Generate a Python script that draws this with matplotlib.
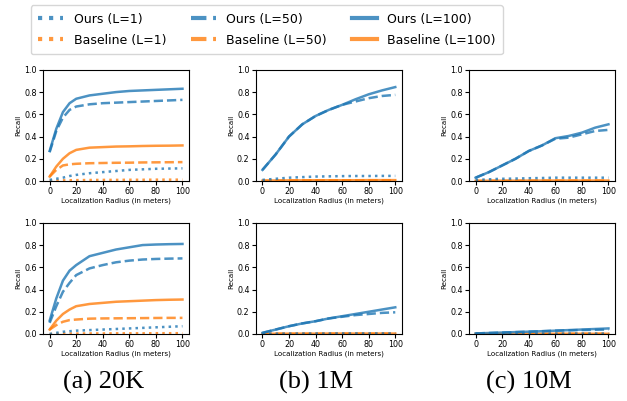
import numpy as np
import matplotlib
matplotlib.use('Agg')
import matplotlib.pyplot as plt
from matplotlib.lines import Line2D

# x positions (localization radius, meters)
radius = [0, 5, 10, 15, 20, 30, 40, 50, 60, 70, 80, 90, 100]

# (a) 20K, top row
a_top_ours_1 = [0.01, 0.02, 0.03, 0.045, 0.055, 0.07, 0.08, 0.09, 0.10, 0.105, 0.11, 0.112, 0.114]
a_top_ours_50 = [0.26, 0.45, 0.57, 0.64, 0.67, 0.69, 0.70, 0.705, 0.71, 0.715, 0.72, 0.725, 0.73]
a_top_ours_100 = [0.27, 0.47, 0.62, 0.70, 0.74, 0.77, 0.785, 0.80, 0.81, 0.815, 0.82, 0.825, 0.83]
a_top_base_1 = [0.002, 0.004, 0.006, 0.007, 0.008, 0.009, 0.01, 0.01, 0.011, 0.011, 0.012, 0.012, 0.012]
a_top_base_50 = [0.04, 0.10, 0.14, 0.15, 0.155, 0.16, 0.162, 0.164, 0.165, 0.167, 0.168, 0.169, 0.17]
a_top_base_100 = [0.04, 0.13, 0.20, 0.25, 0.28, 0.30, 0.305, 0.31, 0.312, 0.315, 0.317, 0.318, 0.32]

# (a) 20K, bottom row
a_bot_ours_1 = [0.0, 0.01, 0.02, 0.025, 0.03, 0.035, 0.04, 0.045, 0.05, 0.055, 0.06, 0.065, 0.07]
a_bot_ours_50 = [0.10, 0.25, 0.38, 0.46, 0.53, 0.59, 0.62, 0.645, 0.66, 0.67, 0.675, 0.678, 0.68]
a_bot_ours_100 = [0.12, 0.32, 0.48, 0.57, 0.62, 0.70, 0.73, 0.76, 0.78, 0.80, 0.805, 0.808, 0.81]
a_bot_base_1 = [0.0, 0.002, 0.003, 0.004, 0.004, 0.005, 0.005, 0.006, 0.006, 0.006, 0.007, 0.007, 0.007]
a_bot_base_50 = [0.04, 0.08, 0.11, 0.125, 0.13, 0.138, 0.14, 0.141, 0.142, 0.143, 0.144, 0.145, 0.145]
a_bot_base_100 = [0.04, 0.12, 0.18, 0.22, 0.25, 0.27, 0.28, 0.29, 0.295, 0.30, 0.305, 0.308, 0.31]

# (b) 1M, top row
b_top_ours_1 = [0.01, 0.015, 0.02, 0.025, 0.03, 0.035, 0.04, 0.042, 0.044, 0.045, 0.045, 0.046, 0.046]
b_top_ours_50 = [0.10, 0.17, 0.24, 0.32, 0.40, 0.51, 0.585, 0.64, 0.685, 0.715, 0.745, 0.765, 0.775]
b_top_ours_100 = [0.10, 0.17, 0.24, 0.32, 0.40, 0.51, 0.585, 0.64, 0.685, 0.735, 0.78, 0.815, 0.845]
b_top_base_1 = [0.001, 0.001, 0.002, 0.002, 0.002, 0.003, 0.003, 0.003, 0.003, 0.003, 0.003, 0.003, 0.003]
b_top_base_50 = [0.002, 0.003, 0.003, 0.004, 0.004, 0.005, 0.005, 0.005, 0.005, 0.005, 0.006, 0.006, 0.006]
b_top_base_100 = [0.003, 0.004, 0.005, 0.005, 0.006, 0.006, 0.007, 0.007, 0.007, 0.007, 0.008, 0.008, 0.008]

# (b) 1M, bottom row
b_bot_ours_1 = [0.001, 0.002, 0.002, 0.003, 0.003, 0.004, 0.004, 0.004, 0.005, 0.005, 0.005, 0.005, 0.005]
b_bot_ours_50 = [0.01, 0.025, 0.04, 0.055, 0.07, 0.095, 0.115, 0.14, 0.155, 0.17, 0.18, 0.19, 0.195]
b_bot_ours_100 = [0.01, 0.025, 0.04, 0.055, 0.07, 0.095, 0.115, 0.14, 0.16, 0.18, 0.20, 0.22, 0.24]
b_bot_base_1 = [0.0, 0.0, 0.001, 0.001, 0.001, 0.001, 0.001, 0.001, 0.001, 0.001, 0.001, 0.001, 0.001]
b_bot_base_50 = [0.001, 0.001, 0.002, 0.002, 0.002, 0.002, 0.002, 0.003, 0.003, 0.003, 0.003, 0.003, 0.003]
b_bot_base_100 = [0.001, 0.002, 0.002, 0.003, 0.003, 0.003, 0.003, 0.004, 0.004, 0.004, 0.004, 0.004, 0.004]

# (c) 10M, top row
c_top_ours_1 = [0.01, 0.012, 0.015, 0.018, 0.02, 0.022, 0.025, 0.027, 0.03, 0.03, 0.03, 0.03, 0.03]
c_top_ours_50 = [0.03, 0.055, 0.08, 0.11, 0.14, 0.20, 0.27, 0.32, 0.38, 0.39, 0.42, 0.45, 0.46]
c_top_ours_100 = [0.03, 0.055, 0.08, 0.11, 0.14, 0.20, 0.27, 0.32, 0.385, 0.405, 0.435, 0.48, 0.51]
c_top_base_1 = [0.0, 0.0, 0.001, 0.001, 0.001, 0.001, 0.001, 0.001, 0.001, 0.001, 0.001, 0.001, 0.001]
c_top_base_50 = [0.001, 0.001, 0.002, 0.002, 0.002, 0.002, 0.003, 0.003, 0.003, 0.003, 0.003, 0.003, 0.003]
c_top_base_100 = [0.001, 0.002, 0.002, 0.003, 0.003, 0.003, 0.004, 0.004, 0.004, 0.004, 0.004, 0.004, 0.004]

# (c) 10M, bottom row
c_bot_ours_1 = [0.0, 0.001, 0.001, 0.001, 0.002, 0.002, 0.002, 0.002, 0.003, 0.003, 0.003, 0.003, 0.003]
c_bot_ours_50 = [0.005, 0.007, 0.009, 0.011, 0.013, 0.017, 0.021, 0.025, 0.03, 0.033, 0.036, 0.038, 0.04]
c_bot_ours_100 = [0.005, 0.007, 0.009, 0.011, 0.013, 0.017, 0.021, 0.025, 0.03, 0.035, 0.04, 0.045, 0.05]
c_bot_base_1 = [0.0, 0.0, 0.0, 0.0, 0.0, 0.0, 0.001, 0.001, 0.001, 0.001, 0.001, 0.001, 0.001]
c_bot_base_50 = [0.0, 0.001, 0.001, 0.001, 0.001, 0.001, 0.001, 0.001, 0.002, 0.002, 0.002, 0.002, 0.002]
c_bot_base_100 = [0.001, 0.001, 0.001, 0.002, 0.002, 0.002, 0.002, 0.002, 0.002, 0.002, 0.002, 0.002, 0.002]

captions = ['(a) 20K', '(b) 1M', '(c) 10M']
legend_labels = ['Ours (L=1)', 'Baseline (L=1)', 'Ours (L=50)', 'Baseline (L=50)',
                 'Ours (L=100)', 'Baseline (L=100)']

panels = [
    [(a_top_ours_1, a_top_ours_50, a_top_ours_100, a_top_base_1, a_top_base_50, a_top_base_100),
     (b_top_ours_1, b_top_ours_50, b_top_ours_100, b_top_base_1, b_top_base_50, b_top_base_100),
     (c_top_ours_1, c_top_ours_50, c_top_ours_100, c_top_base_1, c_top_base_50, c_top_base_100)],
    [(a_bot_ours_1, a_bot_ours_50, a_bot_ours_100, a_bot_base_1, a_bot_base_50, a_bot_base_100),
     (b_bot_ours_1, b_bot_ours_50, b_bot_ours_100, b_bot_base_1, b_bot_base_50, b_bot_base_100),
     (c_bot_ours_1, c_bot_ours_50, c_bot_ours_100, c_bot_base_1, c_bot_base_50, c_bot_base_100)],
]

styles = [':', '--', '-']
alpha = 0.8
lw = 1.8

fig = plt.figure(figsize=(6.27, 4.01), dpi=100)

lefts = [0.0686, 0.408, 0.748]
bottoms = [0.5486, 0.1671]
w, h = 0.233, 0.2772

for r in range(2):
    for c in range(3):
        ax = fig.add_axes([lefts[c], bottoms[r], w, h])
        series = panels[r][c]
        # baseline first, ours on top
        for k in range(3):
            ax.plot(radius, series[3 + k], styles[k], color='C1', lw=lw, alpha=alpha)
        for k in range(3):
            ax.plot(radius, series[k], styles[k], color='C0', lw=lw, alpha=alpha)
        ax.set_ylim(0, 1)
        ax.set_xticks([0, 20, 40, 60, 80, 100])
        ax.set_yticks([0, 0.2, 0.4, 0.6, 0.8, 1.0])
        ax.tick_params(labelsize=5.8, length=3, pad=1.5)
        ax.set_xlabel('Localization Radius (in meters)', fontsize=5.1, labelpad=1)
        ax.set_ylabel('Recall', fontsize=5.1, labelpad=2)

for c in range(3):
    fig.text([0.165, 0.504, 0.844][c], 0.047, captions[c], ha='center', va='center',
             fontsize=19, family='Liberation Serif')

handles = []
for k in range(3):
    handles.append(Line2D([], [], ls=styles[k], color='C0', lw=3, alpha=alpha))
    handles.append(Line2D([], [], ls=styles[k], color='C1', lw=3, alpha=alpha))
fig.legend(handles, legend_labels, ncol=3, loc='upper left', fontsize=9,
           bbox_to_anchor=(31 / 627, 1 - 5 / 401), borderaxespad=0,
           labelspacing=0.65, borderpad=0.6)

fig.savefig('out.png', dpi=100)
